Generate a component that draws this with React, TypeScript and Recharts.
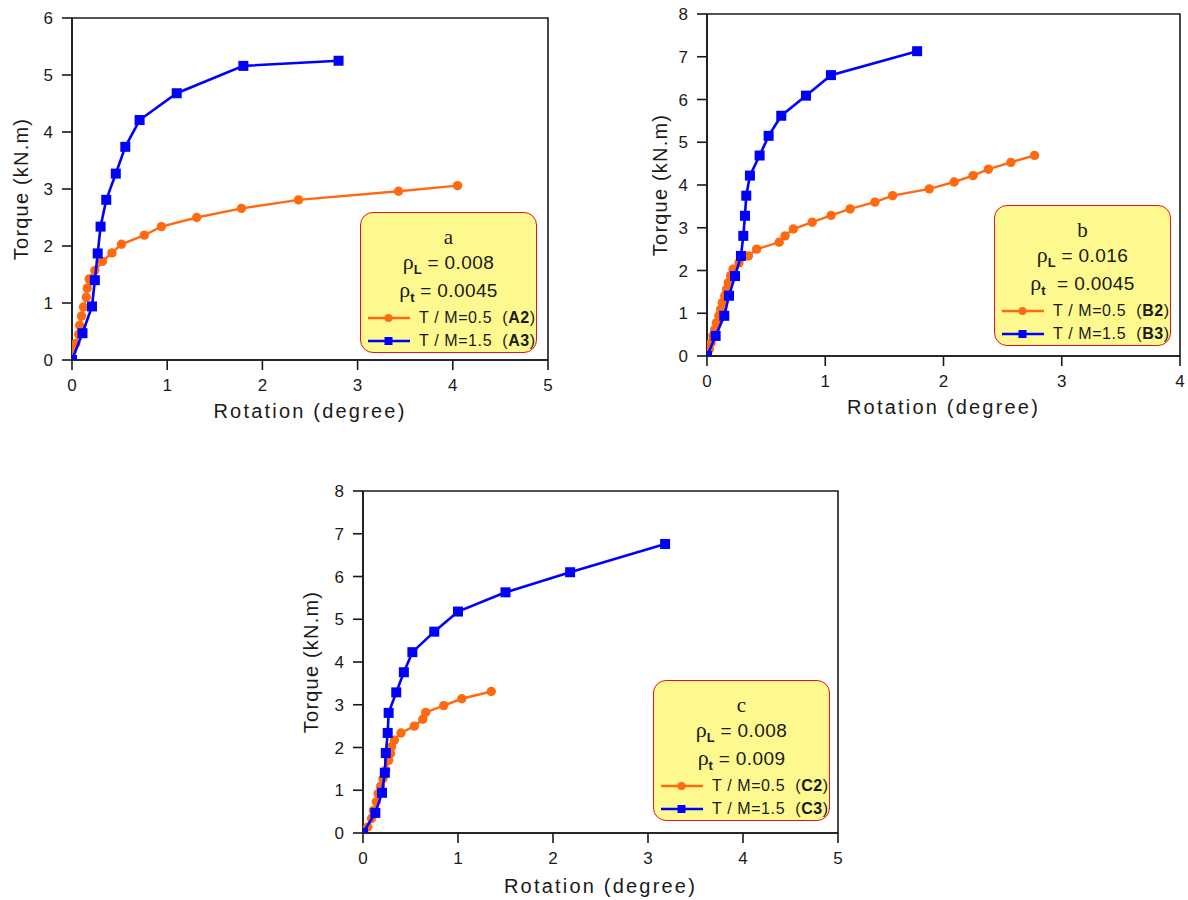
import React from "react";
import {
  ScatterChart,
  Scatter,
  XAxis,
  YAxis,
  ReferenceArea,
  Legend,
} from "recharts";

// rotation (degree) / torque (kN.m)
const a2Rot = [0.0, 0.04, 0.07, 0.08, 0.1, 0.12, 0.15, 0.16, 0.18, 0.24, 0.32, 0.42, 0.52, 0.76, 0.94, 1.31, 1.78, 2.38, 3.43, 4.05];
const a2Torque = [0.15, 0.29, 0.45, 0.61, 0.77, 0.93, 1.1, 1.26, 1.42, 1.57, 1.73, 1.88, 2.03, 2.19, 2.34, 2.5, 2.66, 2.81, 2.96, 3.06];
const a3Rot = [0, 0.11, 0.21, 0.24, 0.27, 0.3, 0.36, 0.46, 0.56, 0.71, 1.1, 1.8, 2.8];
const a3Torque = [0, 0.47, 0.94, 1.4, 1.87, 2.34, 2.81, 3.27, 3.74, 4.21, 4.68, 5.16, 5.25];

const b2Rot = [0, 0.02, 0.035, 0.05, 0.065, 0.08, 0.1, 0.115, 0.13, 0.15, 0.165, 0.18, 0.2, 0.22, 0.27, 0.35, 0.42, 0.61, 0.66, 0.73, 0.89, 1.05, 1.21, 1.42, 1.57, 1.88, 2.09, 2.25, 2.38, 2.57, 2.77];
const b2Torque = [0, 0.16, 0.31, 0.47, 0.62, 0.78, 0.94, 1.09, 1.25, 1.41, 1.56, 1.72, 1.88, 2.03, 2.18, 2.34, 2.5, 2.66, 2.81, 2.97, 3.13, 3.29, 3.44, 3.6, 3.75, 3.91, 4.07, 4.22, 4.37, 4.53, 4.69];
const b3Rot = [0, 0.073, 0.146, 0.186, 0.237, 0.287, 0.307, 0.321, 0.332, 0.363, 0.445, 0.521, 0.628, 0.837, 1.048, 1.777];
const b3Torque = [0, 0.47, 0.94, 1.41, 1.87, 2.34, 2.81, 3.28, 3.75, 4.22, 4.69, 5.15, 5.62, 6.09, 6.57, 7.13];

const c2Rot = [0, 0.05, 0.09, 0.11, 0.14, 0.16, 0.185, 0.21, 0.24, 0.27, 0.29, 0.3, 0.33, 0.4, 0.54, 0.63, 0.66, 0.85, 1.04, 1.35];
const c2Torque = [0, 0.14, 0.34, 0.53, 0.73, 0.92, 1.09, 1.27, 1.47, 1.7, 1.86, 2.02, 2.17, 2.34, 2.5, 2.66, 2.82, 2.98, 3.14, 3.31];
const c3Rot = [0, 0.13, 0.2, 0.23, 0.24, 0.26, 0.27, 0.35, 0.43, 0.52, 0.75, 1.0, 1.5, 2.18, 3.18];
const c3Torque = [0, 0.47, 0.94, 1.41, 1.87, 2.34, 2.81, 3.29, 3.76, 4.23, 4.71, 5.18, 5.63, 6.1, 6.76];

const ticks5 = [0, 1, 2, 3, 4, 5];
const ticks4 = [0, 1, 2, 3, 4];
const ticks6 = [0, 1, 2, 3, 4, 5, 6];
const ticks8 = [0, 1, 2, 3, 4, 5, 6, 7, 8];

const ORANGE = "#ff6a10";
const BLUE = "#0000ff";
const INK = "#1a1a1a";
const SANS = '"Liberation Sans", Arial, sans-serif';
const SERIF = '"Liberation Serif", "Times New Roman", serif';

const zip = (xs: number[], ys: number[]) => xs.map((x, i) => ({ x, y: ys[i] }));

const Dot = (p: any) => <circle cx={p.cx} cy={p.cy} r={4.7} fill={ORANGE} />;
const Square = (p: any) => (
  <rect x={p.cx - 5} y={p.cy - 5} width={10} height={10} fill={BLUE} />
);

function Rho(props: { sub: string; text: string }) {
  return (
    <span style={{ whiteSpace: "pre" }}>
      <span style={{ fontFamily: SERIF, fontSize: 22 }}>ρ</span>
      <span style={{ fontSize: 13, fontWeight: "bold", position: "relative", top: 5 }}>{props.sub}</span>
      <span style={{ fontSize: 19, letterSpacing: 0.4 }}>{props.text}</span>
    </span>
  );
}

function Row(props: { top: number; color: string; square: boolean; label: string; code: string }) {
  return (
    <div style={{ position: "absolute", left: 6, top: props.top - 9, height: 18, display: "flex", alignItems: "center" }}>
      <svg width={44} height={14}>
        <line x1={1} y1={7} x2={43} y2={7} stroke={props.color} strokeWidth={2.5} />
        {props.square ? (
          <rect x={17.5} y={3} width={8} height={8} fill={props.color} />
        ) : (
          <circle cx={21.5} cy={7} r={4} fill={props.color} />
        )}
      </svg>
      <span style={{ marginLeft: 8, fontSize: 16, letterSpacing: 0.6, color: INK, whiteSpace: "pre" }}>
        {props.label}  (<b>{props.code}</b>)
      </span>
    </div>
  );
}

function LegendBox(props: { title: string; rhoL: string; rhoT: string; codes: string[] }) {
  const line = (top: number, child: React.ReactNode) => (
    <div style={{ position: "absolute", left: 0, right: 0, top: top - 13, height: 26, textAlign: "center", lineHeight: "26px", color: INK }}>
      {child}
    </div>
  );
  return (
    <div
      style={{
        position: "relative",
        width: 177,
        height: 141,
        boxSizing: "border-box",
        border: "1.6px solid #e2141c",
        borderRadius: 13,
        background: "#fdf98f",
        fontFamily: SANS,
      }}
    >
      {line(24, <span style={{ fontFamily: SERIF, fontSize: 21 }}>{props.title}</span>)}
      {line(49, <Rho sub="L" text={props.rhoL} />)}
      {line(77, <Rho sub="t" text={props.rhoT} />)}
      <Row top={105} color={ORANGE} square={false} label="T / M=0.5" code={props.codes[0]} />
      <Row top={128} color={BLUE} square={true} label="T / M=1.5" code={props.codes[1]} />
    </div>
  );
}

type PanelProps = {
  left: number;
  top: number;
  width: number;
  height: number;
  margin: { top: number; right: number; bottom: number; left: number };
  yWidth: number;
  xHeight: number;
  xMax: number;
  yMax: number;
  xTicks: number[];
  yTicks: number[];
  low: { x: number; y: number }[];
  high: { x: number; y: number }[];
  names: string[];
  yLabelOffset: number;
  xLabelOffset: number;
  legendPos: { left: number; top: number };
  legend: { title: string; rhoL: string; rhoT: string; codes: string[] };
};

function Panel(p: PanelProps) {
  const tick = { fill: INK, fontSize: 17, fontFamily: SANS };
  return (
    <div style={{ position: "absolute", left: p.left, top: p.top }}>
      <ScatterChart width={p.width} height={p.height} margin={p.margin}>
        <XAxis
          type="number"
          dataKey="x"
          domain={[0, p.xMax]}
          ticks={p.xTicks}
          height={p.xHeight}
          tickSize={10}
          tickMargin={9}
          tick={tick}
          axisLine={{ stroke: INK, strokeWidth: 1.6 }}
          tickLine={{ stroke: INK, strokeWidth: 1.6 }}
          allowDataOverflow
          label={{
            value: "Rotation (degree)",
            position: "insideBottom",
            offset: p.xLabelOffset,
            style: { fill: INK, fontSize: 20, letterSpacing: 2.2, fontFamily: SANS },
          }}
        />
        <YAxis
          type="number"
          dataKey="y"
          domain={[0, p.yMax]}
          ticks={p.yTicks}
          width={p.yWidth}
          tickSize={10}
          tickMargin={9}
          tick={tick}
          axisLine={{ stroke: INK, strokeWidth: 1.6 }}
          tickLine={{ stroke: INK, strokeWidth: 1.6 }}
          allowDataOverflow
          label={{
            value: "Torque (kN.m)",
            angle: -90,
            position: "insideLeft",
            offset: p.yLabelOffset,
            style: { fill: INK, fontSize: 20, letterSpacing: 1.2, fontFamily: SANS, textAnchor: "middle" },
          }}
        />
        <ReferenceArea x1={0} x2={p.xMax} y1={0} y2={p.yMax} fill="none" stroke={INK} strokeWidth={1.6} />
        <Scatter
          name={p.names[0]}
          data={p.low}
          fill={ORANGE}
          line={{ stroke: ORANGE, strokeWidth: 2.4 }}
          shape={Dot}
          isAnimationActive={false}
        />
        <Scatter
          name={p.names[1]}
          data={p.high}
          fill={BLUE}
          line={{ stroke: BLUE, strokeWidth: 2.6 }}
          shape={Square}
          isAnimationActive={false}
        />
        <Legend
          layout="vertical"
          align="center"
          verticalAlign="middle"
          wrapperStyle={{ left: p.legendPos.left, top: p.legendPos.top, width: 177, height: 141 }}
          content={() => <LegendBox {...p.legend} />}
        />
      </ScatterChart>
    </div>
  );
}

export default function App() {
  return (
    <div style={{ position: "absolute", left: 0, top: 0, width: 1188, height: 900, background: "#fff", fontFamily: SANS }}>
      <Panel
        left={0}
        top={0}
        width={560}
        height={425}
        margin={{ top: 18, right: 12, bottom: 0, left: 0 }}
        yWidth={72}
        xHeight={65}
        xMax={5}
        yMax={6}
        xTicks={ticks5}
        yTicks={ticks6}
        low={zip(a2Rot, a2Torque)}
        high={zip(a3Rot, a3Torque)}
        names={["T / M=0.5 (A2)", "T / M=1.5 (A3)"]}
        yLabelOffset={21}
        xLabelOffset={7}
        legendPos={{ left: 360, top: 212 }}
        legend={{ title: "a", rhoL: " = 0.008", rhoT: " = 0.0045", codes: ["A2", "A3"] }}
      />
      <Panel
        left={600}
        top={0}
        width={588}
        height={425}
        margin={{ top: 14, right: 8, bottom: 0, left: 38 }}
        yWidth={69}
        xHeight={69}
        xMax={4}
        yMax={8}
        xTicks={ticks4}
        yTicks={ticks8}
        low={zip(b2Rot, b2Torque)}
        high={zip(b3Rot, b3Torque)}
        names={["T / M=0.5 (B2)", "T / M=1.5 (B3)"]}
        yLabelOffset={22}
        xLabelOffset={11}
        legendPos={{ left: 394, top: 205 }}
        legend={{ title: "b", rhoL: " = 0.016", rhoT: "  = 0.0045", codes: ["B2", "B3"] }}
      />
      <Panel
        left={290}
        top={470}
        width={570}
        height={430}
        margin={{ top: 21, right: 22, bottom: 0, left: 0 }}
        yWidth={73}
        xHeight={67}
        xMax={5}
        yMax={8}
        xTicks={ticks5}
        yTicks={ticks8}
        low={zip(c2Rot, c2Torque)}
        high={zip(c3Rot, c3Torque)}
        names={["T / M=0.5 (C2)", "T / M=1.5 (C3)"]}
        yLabelOffset={21}
        xLabelOffset={7}
        legendPos={{ left: 363, top: 210 }}
        legend={{ title: "c", rhoL: " = 0.008", rhoT: " = 0.009", codes: ["C2", "C3"] }}
      />
    </div>
  );
}
